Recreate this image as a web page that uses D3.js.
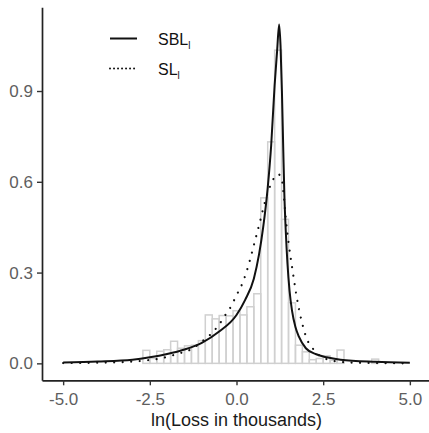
<!DOCTYPE html>
<html>
<head>
<meta charset="utf-8">
<script src="https://cdn.jsdelivr.net/npm/d3@7"></script>
<style>
  body { margin: 0; background: #fff; }
  text { font-family: "Liberation Sans", Arial, sans-serif; }
</style>
</head>
<body>
<svg width="429" height="433"></svg>
<script>
// histogram bins (centre of each 0.2 wide bin) and their densities
var binCenters = [-5.0, -4.8, -4.6, -4.4, -4.2, -4.0, -3.8, -3.6, -3.4, -3.2, -3.0, -2.8,
                  -2.6, -2.4, -2.2, -2.0, -1.8, -1.6, -1.4, -1.2, -1.0, -0.8, -0.6, -0.4, -0.2,
                  0.0, 0.2, 0.4, 0.6, 0.8, 1.0, 1.2, 1.4, 1.6, 1.8, 2.0, 2.2, 2.4, 2.6, 2.8,
                  3.0, 3.2, 3.4, 3.6, 3.8, 4.0, 4.2, 4.4, 4.6, 4.8, 5.0];
var binHeights = [0, 0, 0, 0, 0, 0, 0, 0, 0, 0, 0, 0,
                  0.043, 0.016, 0.040, 0.045, 0.073, 0.050, 0.058, 0.060, 0.075, 0.160, 0.147, 0.158, 0.157,
                  0.174, 0.160, 0.187, 0.230, 0.547, 0.732, 1.035, 0.476, 0.200, 0.060, 0.038, 0.012, 0.016, 0.025, 0.010,
                  0.044, 0, 0, 0, 0, 0.014, 0, 0, 0, 0, 0];
var binWidth = 0.2;

// SBL_l density (solid)
var sblX = [-5, -4, -3, -2.5, -2, -1.5, -1, -0.5, 0, 0.25, 0.5, 0.65, 0.77, 0.9, 1.0, 1.1, 1.17, 1.23,
            1.27, 1.31, 1.35, 1.38, 1.42, 1.47, 1.53, 1.6, 1.7, 1.8, 2.0, 2.3, 2.6, 3.0, 4.0, 5.0];
var sblY = [0.003, 0.006, 0.012, 0.02, 0.031, 0.046, 0.068, 0.105, 0.16, 0.21, 0.28, 0.36, 0.45, 0.58, 0.72, 0.92, 1.03, 1.12,
            1.05, 0.9, 0.7, 0.56, 0.44, 0.33, 0.24, 0.175, 0.12, 0.088, 0.05, 0.03, 0.02, 0.012, 0.005, 0.002];

// SL_l density (dotted)
var slX = [-5, -4, -3, -2.5, -2.16, -1.92, -1.68, -1.25, -1.0, -0.8, -0.63, -0.48, -0.34, -0.19, 0, 0.19, 0.36,
           0.51, 0.67, 0.8, 0.95, 1.08, 1.2, 1.3, 1.36, 1.42, 1.5, 1.6, 1.7, 1.8, 1.9, 2.0, 2.25, 2.6, 3.2, 4.0, 5.0];
var slY = [0.001, 0.002, 0.006, 0.011, 0.017, 0.024, 0.032, 0.05, 0.072, 0.09, 0.11, 0.132, 0.157, 0.182, 0.225, 0.27, 0.33,
           0.395, 0.465, 0.525, 0.58, 0.612, 0.625, 0.612, 0.56, 0.48, 0.4, 0.32, 0.245, 0.18, 0.13, 0.09, 0.042, 0.014, 0.003, 0.001, 0];

var xTicks = [-5, -2.5, 0, 2.5, 5];
var yTicks = [0, 0.3, 0.6, 0.9];
var legendItems = [{name: "SBL", dash: null}, {name: "SL", dash: "0.01,4"}];

var svg = d3.select("svg");

var x = d3.scaleLinear().domain([-5.61, 5.61]).range([42, 431]);
var y = d3.scaleLinear().domain([-0.056, 1.177]).range([380.3, 7.2]);

var fmt = function(d) { return d3.format(".1f")(d).replace("\u2212", "-"); };

// histogram
svg.append("g").selectAll("rect")
    .data(binCenters)
    .enter().append("rect")
      .attr("x", function(d) { return x(d - binWidth / 2); })
      .attr("width", function(d) { return x(d + binWidth / 2) - x(d - binWidth / 2); })
      .attr("y", function(d, i) { return y(binHeights[i]); })
      .attr("height", function(d, i) { return y(0) - y(binHeights[i]); })
      .attr("fill", "none")
      .attr("stroke", "#d0d0d0")
      .attr("stroke-width", 1.5);

var line = d3.line()
    .x(function(d) { return x(d[0]); })
    .y(function(d) { return y(d[1]); })
    .curve(d3.curveMonotoneX);

svg.append("path")
    .datum(d3.zip(slX, slY))
    .attr("d", line)
    .attr("fill", "none")
    .attr("stroke", "#111")
    .attr("stroke-width", 2.2)
    .attr("stroke-linecap", "round")
    .attr("stroke-dasharray", "0.01,8.5");

svg.append("path")
    .datum(d3.zip(sblX, sblY))
    .attr("d", line)
    .attr("fill", "none")
    .attr("stroke", "#111")
    .attr("stroke-width", 2);

// axes
var xAxis = svg.append("g")
    .attr("transform", "translate(0," + y.range()[0] + ")")
    .call(d3.axisBottom(x).tickValues(xTicks).tickFormat(fmt).tickSize(5).tickSizeOuter(0).tickPadding(8));
var yAxis = svg.append("g")
    .attr("transform", "translate(" + x.range()[0] + ",0)")
    .call(d3.axisLeft(y).tickValues(yTicks).tickFormat(fmt).tickSize(5).tickSizeOuter(0).tickPadding(4));

[xAxis, yAxis].forEach(function(a) {
  a.select(".domain").attr("stroke", "#222").attr("stroke-width", 1.7);
  a.selectAll(".tick line").attr("stroke", "#333").attr("stroke-width", 1.4);
  a.selectAll(".tick text").attr("fill", "#5e5e5e").style("font-size", "17px")
    .style("font-family", "'Liberation Sans', Arial, sans-serif");
});

svg.append("text")
    .attr("x", (x.range()[0] + x.range()[1]) / 2)
    .attr("y", 426)
    .attr("text-anchor", "middle")
    .attr("fill", "#1a1a1a")
    .style("font-size", "18px")
    .text("ln(Loss in thousands)");

// legend
var legend = svg.append("g").selectAll("g")
    .data(legendItems)
    .enter().append("g")
      .attr("transform", function(d, i) { return "translate(110," + (38.5 + i * 30) + ")"; });

legend.append("line")
    .attr("x1", 0).attr("x2", 27)
    .attr("stroke", "#111")
    .attr("stroke-width", 2)
    .attr("stroke-linecap", function(d) { return d.dash ? "round" : "butt"; })
    .attr("stroke-dasharray", function(d) { return d.dash; });

var lt = legend.append("text")
    .attr("x", 48)
    .attr("y", 6)
    .attr("fill", "#111")
    .style("font-size", "16px");
lt.append("tspan").text(function(d) { return d.name; });
lt.append("tspan").attr("dy", 4).style("font-size", "10px").text("l");
</script>
</body>
</html>
